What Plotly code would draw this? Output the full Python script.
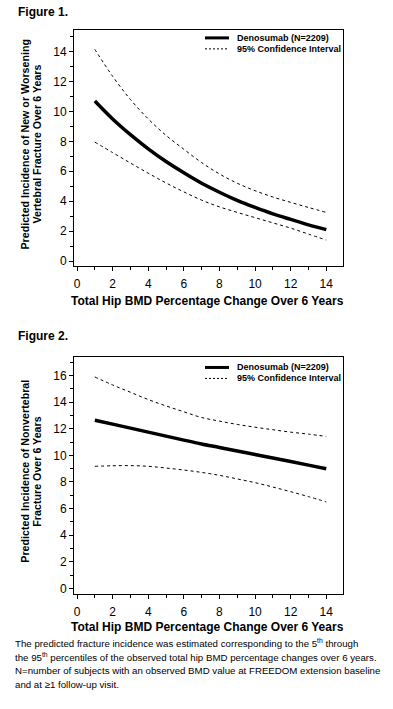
import plotly.graph_objects as go

# ---- data ----
bmd_change = [1, 2, 3, 4, 5, 6, 7, 8, 9, 10, 11, 12, 13, 14]

vert_est = [10.7, 9.5, 8.45, 7.5, 6.65, 5.9, 5.2, 4.6, 4.05, 3.58, 3.15, 2.78, 2.42, 2.1]
vert_upper = [14.15, 12.35, 10.8, 9.5, 8.4, 7.47, 6.58, 5.82, 5.2, 4.7, 4.28, 3.92, 3.58, 3.25]
vert_lower = [7.95, 7.25, 6.55, 5.87, 5.22, 4.62, 4.07, 3.62, 3.25, 2.9, 2.55, 2.2, 1.8, 1.4]

nonvert_est = [12.65, 12.35, 12.05, 11.75, 11.45, 11.15, 10.86, 10.6, 10.33, 10.07, 9.8, 9.54, 9.27, 9.0]
nonvert_upper = [15.9, 15.3, 14.75, 14.2, 13.72, 13.28, 12.85, 12.58, 12.33, 12.12, 11.93, 11.75, 11.6, 11.43]
nonvert_lower = [9.18, 9.22, 9.23, 9.18, 9.05, 8.9, 8.72, 8.5, 8.23, 7.95, 7.62, 7.27, 6.9, 6.5]

x_ticks = [0, 2, 4, 6, 8, 10, 12, 14]
y1_ticks = [0, 2, 4, 6, 8, 10, 12, 14]
y2_ticks = [0, 2, 4, 6, 8, 10, 12, 14, 16]

est_name = "Denosumab (N=2209)"
ci_name = "95% Confidence Interval"
x_title = "Total Hip BMD Percentage Change Over 6 Years"
y1_title = ["Predicted Incidence of New or Worsening", "Vertebral Fracture Over 6 Years"]
y2_title = ["Predicted Incidence of Nonvertebral", "Fracture Over 6 Years"]
footnote = [
    "The predicted fracture incidence was estimated corresponding to the 5<sup>th</sup> through",
    "the 95<sup>th</sup> percentiles of the observed total hip BMD percentage changes over 6 years.",
    "N=number of subjects with an observed BMD value at FREEDOM extension baseline",
    "and at \u22651 follow-up visit.",
]

W, H = 393, 709
FONT = "Liberation Sans, Arial, sans-serif"

def py(px):
    return 1 - px / H

def px_x(px):
    return px / W

fig = go.Figure()

EST_LINE = dict(color="black", width=3.5, shape="spline")
CI_LINE = dict(color="black", width=1, dash="3px,3px", shape="spline")

def add_panel(est, up, lo, xa, ya):
    fig.add_trace(go.Scatter(x=bmd_change, y=est, mode="lines", name=est_name,
                             line=EST_LINE, xaxis=xa, yaxis=ya, showlegend=False))
    fig.add_trace(go.Scatter(x=bmd_change, y=up, mode="lines", name=ci_name,
                             line=CI_LINE, xaxis=xa, yaxis=ya, showlegend=False))
    fig.add_trace(go.Scatter(x=bmd_change, y=lo, mode="lines", name=ci_name,
                             line=CI_LINE, xaxis=xa, yaxis=ya, showlegend=False))

add_panel(vert_est, vert_upper, vert_lower, "x", "y")
add_panel(nonvert_est, nonvert_upper, nonvert_lower, "x2", "y2")

axis_common = dict(showline=True, linecolor="black", linewidth=1, mirror=True,
                   ticks="outside", ticklen=4, tickcolor="black", tickwidth=1,
                   showgrid=False, zeroline=False,
                   tickfont=dict(family=FONT, size=12, color="black"),
                   minor=dict(dtick=1, ticks="outside", ticklen=3, tickcolor="black", showgrid=False))
x_extra = dict(ticklabelstandoff=2)
y_extra = dict()

x_dom = [px_x(74), px_x(343)]
fig.update_layout(
    width=W, height=H,
    margin=dict(l=0, r=0, t=0, b=0),
    paper_bgcolor="white", plot_bgcolor="white",
    font=dict(family=FONT, color="black"),
    xaxis=dict(domain=x_dom, range=[-0.17, 14.94], tickvals=x_ticks, anchor="y", **axis_common, **x_extra),
    yaxis=dict(domain=[py(267), py(30)], range=[-0.35, 15.45], tickvals=y1_ticks, anchor="x", **axis_common, **y_extra),
    xaxis2=dict(domain=x_dom, range=[-0.17, 14.94], tickvals=x_ticks, anchor="y2", **axis_common, **x_extra),
    yaxis2=dict(domain=[py(596), py(358.3)], range=[-0.45, 17.38], tickvals=y2_ticks, anchor="x2", **axis_common, **y_extra),
    showlegend=False,
)

ann = []
shapes = []

# legend keys (one per panel)
for row1 in (38, 368.5):
    row2 = row1 + 11
    shapes.append(dict(type="line", xref="paper", yref="paper", x0=px_x(205), x1=px_x(229),
                       y0=py(row1), y1=py(row1), line=dict(color="black", width=3)))
    shapes.append(dict(type="line", xref="paper", yref="paper", x0=px_x(205), x1=px_x(229),
                       y0=py(row2), y1=py(row2), line=dict(color="black", width=1, dash="2px,2px")))
    ann.append(dict(text="<b>" + est_name + "</b>", x=px_x(235), y=py(row1), xanchor="left",
                    yanchor="middle", font=dict(size=9)))
    ann.append(dict(text="<b>" + ci_name + "</b>", x=px_x(235), y=py(row2), xanchor="left",
                    yanchor="middle", font=dict(size=9)))

ann.append(dict(text="<b>Figure 1.</b>", x=px_x(16), y=py(12), xanchor="left", yanchor="middle",
                font=dict(size=12)))
ann.append(dict(text="<b>Figure 2.</b>", x=px_x(16), y=py(337), xanchor="left", yanchor="middle",
                font=dict(size=12)))
ann.append(dict(text="<b>" + x_title + "</b>", x=px_x(207), y=py(302), xanchor="center", yanchor="middle",
                font=dict(size=12)))
ann.append(dict(text="<b>" + x_title + "</b>", x=px_x(207), y=py(629), xanchor="center", yanchor="middle",
                font=dict(size=12)))
for title, yc in ((y1_title, 145), (y2_title, 473)):
    for j, line in enumerate(title):
        ann.append(dict(text="<b>" + line + "</b>", x=px_x(25 + 12 * j), y=py(yc),
                        xanchor="center", yanchor="middle", textangle=-90, font=dict(size=10.7)))
for i, line in enumerate(footnote):
    ann.append(dict(text=line, x=px_x(13), y=py(645 + 13.9 * i), xanchor="left", yanchor="middle",
                    font=dict(size=9.7)))
for a in ann:
    a.update(xref="paper", yref="paper", showarrow=False)
    a["font"].update(family=FONT, color="black")
fig.update_layout(annotations=ann, shapes=shapes)

fig.write_html("out.html", config={"displayModeBar": False},
               post_script="document.body.style.margin='0';")
